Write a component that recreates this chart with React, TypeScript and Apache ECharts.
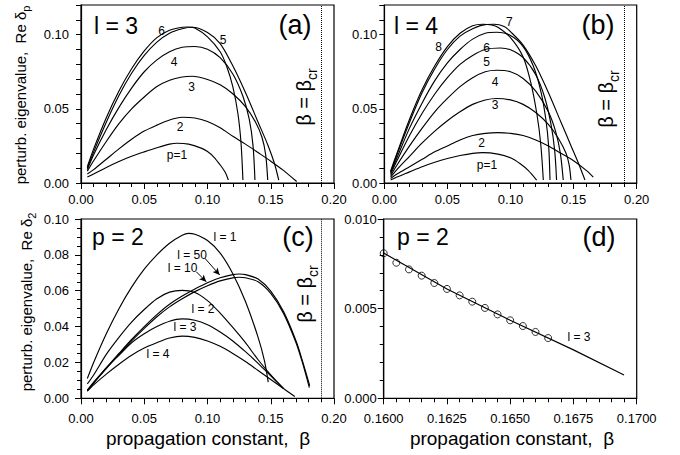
import React, { useEffect, useRef } from "react";
import * as echarts from "echarts";

const FONT = '"Liberation Sans", Arial, Helvetica, sans-serif';
const BETA_CR = 0.1875;

// Panel (a): l = 3, perturbation modes p = 1..6   [beta, Re delta_p]
const A_P1 = [[0.005,0.004],[0.01,0.006],[0.02,0.0105],[0.03,0.0145],[0.04,0.018],[0.05,0.021],[0.06,0.0238],[0.07,0.0262],[0.076,0.0268],[0.085,0.0262],[0.095,0.0235],[0.10,0.0212],[0.105,0.0175],[0.11,0.0122],[0.114,0.0072],[0.1165,0.002]];
const A_P2 = [[0.005,0.006],[0.01,0.009],[0.02,0.016],[0.03,0.023],[0.04,0.0295],[0.05,0.035],[0.06,0.039],[0.07,0.0425],[0.08,0.0443],[0.09,0.0438],[0.10,0.0415],[0.11,0.0372],[0.12,0.0315],[0.13,0.0262],[0.14,0.0205],[0.15,0.0147],[0.16,0.0085],[0.1705,0.001]];
const A_P3 = [[0.005,0.008],[0.01,0.015],[0.02,0.028],[0.03,0.040],[0.04,0.050],[0.05,0.058],[0.06,0.065],[0.07,0.0693],[0.08,0.0715],[0.088,0.072],[0.10,0.0698],[0.11,0.0662],[0.12,0.0602],[0.13,0.0515],[0.138,0.041],[0.143,0.031],[0.146,0.019],[0.1476,0.002]];
const A_P4 = [[0.005,0.009],[0.01,0.019],[0.02,0.036],[0.03,0.051],[0.04,0.064],[0.05,0.075],[0.06,0.083],[0.07,0.0885],[0.08,0.0915],[0.09,0.092],[0.10,0.0902],[0.11,0.0845],[0.12,0.0735],[0.128,0.0585],[0.133,0.043],[0.136,0.025],[0.1375,0.002]];
const A_P5 = [[0.005,0.010],[0.01,0.021],[0.02,0.041],[0.03,0.059],[0.04,0.074],[0.05,0.086],[0.06,0.095],[0.07,0.101],[0.08,0.104],[0.088,0.105],[0.10,0.1015],[0.11,0.094],[0.12,0.079],[0.13,0.061],[0.14,0.041],[0.148,0.025],[0.153,0.013],[0.1563,0.002]];
const A_P6 = [[0.005,0.011],[0.01,0.023],[0.02,0.044],[0.03,0.062],[0.04,0.077],[0.05,0.089],[0.06,0.098],[0.07,0.103],[0.08,0.105],[0.085,0.1052],[0.09,0.1045],[0.10,0.0985],[0.11,0.0885],[0.115,0.079],[0.12,0.065],[0.124,0.047],[0.1265,0.027],[0.128,0.002]];

// Panel (b): l = 4, perturbation modes p = 1..8
const B_P1 = [[0.005,0.002],[0.01,0.004],[0.02,0.0075],[0.03,0.011],[0.04,0.014],[0.05,0.0165],[0.06,0.0185],[0.07,0.020],[0.078,0.0205],[0.09,0.0195],[0.10,0.017],[0.108,0.0128],[0.114,0.0085],[0.1207,0.002]];
const B_P2 = [[0.005,0.003],[0.01,0.006],[0.02,0.011],[0.03,0.016],[0.04,0.021],[0.05,0.025],[0.06,0.029],[0.07,0.032],[0.08,0.0335],[0.09,0.034],[0.10,0.0335],[0.11,0.032],[0.12,0.029],[0.13,0.025],[0.14,0.020],[0.15,0.015],[0.16,0.0085],[0.1656,0.004]];
const B_P3 = [[0.005,0.004],[0.01,0.009],[0.02,0.018],[0.03,0.027],[0.04,0.035],[0.05,0.042],[0.06,0.048],[0.07,0.053],[0.08,0.056],[0.089,0.057],[0.10,0.056],[0.11,0.053],[0.12,0.0475],[0.13,0.0395],[0.138,0.030],[0.144,0.020],[0.1465,0.012],[0.1479,0.002]];
const B_P4 = [[0.005,0.005],[0.01,0.012],[0.02,0.025],[0.03,0.037],[0.04,0.048],[0.05,0.057],[0.06,0.065],[0.07,0.071],[0.08,0.075],[0.089,0.076],[0.10,0.075],[0.11,0.0705],[0.12,0.062],[0.13,0.048],[0.136,0.034],[0.1395,0.020],[0.1418,0.002]];
const B_P5 = [[0.005,0.006],[0.01,0.015],[0.02,0.032],[0.03,0.047],[0.04,0.060],[0.05,0.071],[0.06,0.080],[0.07,0.086],[0.08,0.090],[0.092,0.091],[0.10,0.0898],[0.11,0.0845],[0.12,0.073],[0.127,0.058],[0.132,0.040],[0.135,0.022],[0.1365,0.002]];
const B_P6 = [[0.005,0.007],[0.01,0.017],[0.02,0.037],[0.03,0.054],[0.04,0.069],[0.05,0.081],[0.06,0.090],[0.07,0.097],[0.08,0.101],[0.089,0.1016],[0.10,0.0995],[0.11,0.092],[0.118,0.079],[0.124,0.062],[0.128,0.043],[0.1303,0.024],[0.1313,0.002]];
const B_P7 = [[0.005,0.0075],[0.01,0.019],[0.02,0.041],[0.03,0.061],[0.04,0.077],[0.05,0.090],[0.06,0.099],[0.07,0.104],[0.08,0.1068],[0.087,0.107],[0.095,0.1055],[0.10,0.102],[0.11,0.093],[0.12,0.079],[0.13,0.061],[0.14,0.041],[0.148,0.025],[0.154,0.013],[0.159,0.002]];
const B_P8 = [[0.005,0.008],[0.01,0.020],[0.02,0.043],[0.03,0.063],[0.04,0.079],[0.05,0.092],[0.06,0.101],[0.07,0.106],[0.078,0.107],[0.085,0.1065],[0.09,0.105],[0.10,0.098],[0.11,0.085],[0.116,0.068],[0.121,0.046],[0.124,0.026],[0.126,0.002]];

// Panel (c): p = 2, vortex charge l = 1, 2, 3, 4, 10, 50   [beta, Re delta_2]
const C_L1 = [[0.005,0.011],[0.01,0.020],[0.02,0.036],[0.03,0.050],[0.04,0.062],[0.05,0.072],[0.06,0.080],[0.07,0.0865],[0.08,0.091],[0.085,0.092],[0.09,0.0915],[0.10,0.088],[0.11,0.081],[0.12,0.0695],[0.13,0.054],[0.14,0.034],[0.145,0.021],[0.148,0.009]];
const C_L2 = [[0.005,0.008],[0.01,0.013],[0.02,0.0245],[0.03,0.034],[0.04,0.0425],[0.05,0.0495],[0.06,0.0555],[0.07,0.0592],[0.08,0.0602],[0.09,0.059],[0.10,0.0545],[0.11,0.0475],[0.12,0.0395],[0.13,0.031],[0.14,0.0215],[0.15,0.013],[0.16,0.0055]];
const C_L3 = [[0.005,0.0045],[0.01,0.0085],[0.02,0.017],[0.03,0.024],[0.04,0.031],[0.05,0.036],[0.06,0.040],[0.07,0.043],[0.08,0.0443],[0.09,0.0435],[0.10,0.041],[0.11,0.037],[0.12,0.032],[0.13,0.026],[0.14,0.0195],[0.15,0.0125],[0.16,0.0055]];
const C_L4 = [[0.005,0.004],[0.01,0.0075],[0.02,0.0135],[0.03,0.019],[0.04,0.024],[0.05,0.028],[0.06,0.031],[0.07,0.0336],[0.08,0.0347],[0.09,0.034],[0.10,0.032],[0.11,0.029],[0.12,0.025],[0.13,0.0205],[0.14,0.0155],[0.15,0.0105],[0.16,0.0055],[0.169,0.001]];
const C_L10 = [[0.005,0.004],[0.01,0.0085],[0.02,0.0165],[0.03,0.0245],[0.04,0.032],[0.05,0.039],[0.06,0.0455],[0.07,0.051],[0.08,0.0555],[0.09,0.0595],[0.10,0.0628],[0.11,0.0655],[0.12,0.0672],[0.125,0.0675],[0.13,0.0672],[0.14,0.065],[0.15,0.0585],[0.16,0.0475],[0.17,0.031],[0.175,0.020],[0.1805,0.006]];
const C_L50 = [[0.005,0.0045],[0.01,0.009],[0.02,0.017],[0.03,0.025],[0.04,0.0328],[0.05,0.040],[0.06,0.0467],[0.07,0.0525],[0.08,0.057],[0.09,0.061],[0.10,0.0645],[0.11,0.0672],[0.12,0.069],[0.125,0.0693],[0.13,0.069],[0.14,0.0665],[0.15,0.0598],[0.16,0.0485],[0.17,0.032],[0.175,0.021],[0.1808,0.007]];
const ARROW_L50 = [[0.0978,0.0782],[0.1096,0.0688]];
const ARROW_L10 = [[0.0911,0.0706],[0.099,0.0650]];

// Panel (d): p = 2, l = 3, close to the edge of the instability band
const D_LINE = [[0.16,0.0081],[0.1625,0.0061],[0.165,0.00435],[0.1675,0.0027],[0.1695,0.0013]];
const D_CIRCLES = [[0.16,0.00809],[0.1605,0.00756],[0.161,0.00719],[0.1615,0.00684],[0.162,0.00643],[0.1625,0.0061],[0.163,0.00574],[0.1635,0.00539],[0.164,0.00504],[0.1645,0.00468],[0.165,0.00435],[0.1655,0.00403],[0.166,0.0037],[0.1665,0.00336]];

const isMult = (v: number, step: number) => Math.abs(v / step - Math.round(v / step)) < 1e-6;

function grid(left: number, top: number, width: number, height: number) {
  return { left, top, width, height, show: true, borderColor: "#000", borderWidth: 1.2, backgroundColor: "transparent" };
}

function axis(o: any) {
  return {
    type: "value",
    gridIndex: o.g,
    min: o.min,
    max: o.max,
    interval: o.interval,
    axisLine: { show: true, onZero: false, lineStyle: { color: "#000", width: 1.2 } },
    axisTick: { show: true, inside: false, length: o.tick ?? 6, lineStyle: { color: "#000", width: 1 } },
    minorTick: { show: !!o.minor, splitNumber: o.minor || 5, length: 4, lineStyle: { color: "#000", width: 1 } },
    splitLine: { show: false },
    axisLabel: {
      show: true,
      color: "#000",
      fontFamily: FONT,
      fontSize: o.fs ?? 13,
      margin: o.margin ?? 8,
      formatter: o.fmt,
    },
  };
}

function curve(data: number[][], idx: number, extra: any = {}) {
  return {
    type: "line",
    xAxisIndex: idx,
    yAxisIndex: idx,
    data,
    symbol: "none",
    smooth: 0.3,
    lineStyle: { color: "#000", width: 1.15 },
    silent: true,
    z: 3,
    ...extra,
  };
}

const crLine = {
  silent: true,
  symbol: ["none", "none"],
  label: { show: false },
  lineStyle: { color: "#000", type: "dotted", width: 1 },
  data: [{ xAxis: BETA_CR }],
};

function txt(text: string, x: number, y: number, size: number, align = "center") {
  return {
    type: "text",
    x,
    y,
    silent: true,
    style: { text, fill: "#000", font: `${size}px ${FONT}`, align, verticalAlign: "middle" },
  };
}

function subText(main: string, sub: string, x: number, y: number, size: number, subSize: number, drop: number) {
  return {
    type: "text",
    x,
    y,
    rotation: Math.PI / 2,
    silent: true,
    style: {
      text: `{m|${main}}{s|${sub}}`,
      align: "center",
      verticalAlign: "middle",
      rich: {
        m: { fontSize: size, fontFamily: FONT, fill: "#000", verticalAlign: "bottom", padding: [0, 0, drop, 0] },
        s: { fontSize: subSize, fontFamily: FONT, fill: "#000", verticalAlign: "bottom" },
      },
    },
  };
}

const fmt2 = (v: number) => v.toFixed(2);

const option: any = {
  animation: false,
  backgroundColor: "#fff",
  textStyle: { fontFamily: FONT },
  grid: [grid(81, 5, 253, 178), grid(384.3, 5, 252.4, 178), grid(81, 219, 253, 179.3), grid(383.7, 219, 253, 179.3)],
  xAxis: [
    axis({ g: 0, min: 0, max: 0.2, interval: 0.05, minor: 5, fmt: fmt2, margin: 10, tick: 6 }),
    axis({ g: 1, min: 0, max: 0.2, interval: 0.05, minor: 5, fmt: fmt2, margin: 10, tick: 6 }),
    axis({ g: 2, min: 0, max: 0.2, interval: 0.05, minor: 5, fmt: fmt2, margin: 14, tick: 6 }),
    axis({ g: 3, min: 0.16, max: 0.17, interval: 0.0025, minor: 5, fmt: (v: number) => v.toFixed(4), margin: 14, tick: 6 }),
  ],
  yAxis: [
    axis({ g: 0, min: 0, max: 0.12, interval: 0.01, tick: 5, fmt: (v: number) => (isMult(v, 0.05) ? v.toFixed(2) : ""), margin: 12 }),
    axis({ g: 1, min: 0, max: 0.12, interval: 0.01, tick: 5, fmt: (v: number) => (isMult(v, 0.05) ? v.toFixed(2) : ""), margin: 7 }),
    axis({ g: 2, min: 0, max: 0.1, interval: 0.02, minor: 4, fmt: fmt2, margin: 12 }),
    axis({ g: 3, min: 0, max: 0.01, interval: 0.005, minor: 5, fmt: (v: number) => v.toFixed(3), margin: 7 }),
  ],
  series: [
    curve(A_P1, 0, { markLine: crLine }),
    curve(A_P2, 0),
    curve(A_P3, 0),
    curve(A_P4, 0),
    curve(A_P5, 0),
    curve(A_P6, 0),
    curve(B_P1, 1, { markLine: crLine }),
    curve(B_P2, 1),
    curve(B_P3, 1),
    curve(B_P4, 1),
    curve(B_P5, 1),
    curve(B_P6, 1),
    curve(B_P7, 1),
    curve(B_P8, 1),
    curve(C_L1, 2, { markLine: crLine }),
    curve(C_L2, 2),
    curve(C_L3, 2),
    curve(C_L4, 2),
    curve(C_L10, 2),
    curve(C_L50, 2, {
      markLine: {
        silent: true,
        symbol: ["none", "arrow"],
        symbolSize: [5, 7],
        label: { show: false },
        lineStyle: { color: "#000", type: "solid", width: 1 },
        data: [
          [{ coord: ARROW_L50[0] }, { coord: ARROW_L50[1] }],
          [{ coord: ARROW_L10[0] }, { coord: ARROW_L10[1] }],
        ],
      },
    }),
    curve(D_LINE, 3, { smooth: false }),
    {
      type: "scatter",
      xAxisIndex: 3,
      yAxisIndex: 3,
      data: D_CIRCLES,
      symbol: "circle",
      symbolSize: 7,
      silent: true,
      itemStyle: { color: "transparent", borderColor: "#000", borderWidth: 1 },
      z: 4,
    },
  ],
  graphic: [
    // panel titles
    txt("l = 3", 94, 26, 23, "left"),
    txt("(a)", 295, 25, 27),
    txt("l = 4", 394, 26, 23, "left"),
    txt("(b)", 598, 25, 27),
    txt("p = 2", 92, 236.5, 23, "left"),
    txt("(c)", 298, 237, 27),
    txt("p = 2", 397, 236.5, 23, "left"),
    txt("(d)", 599, 237, 27),
    // curve labels (a)
    txt("6", 161.5, 30.5, 12),
    txt("5", 223, 40, 12),
    txt("4", 174, 61.7, 12),
    txt("3", 191.5, 86.7, 12),
    txt("2", 180, 126.7, 12),
    txt("p=1", 177, 154.5, 12),
    // curve labels (b)
    txt("7", 509.3, 21.7, 12),
    txt("8", 438.7, 47, 12),
    txt("6", 486.5, 48, 12),
    txt("5", 486.5, 62, 12),
    txt("4", 495, 81.7, 12),
    txt("3", 495, 105, 12),
    txt("2", 481.7, 143.3, 12),
    txt("p=1", 487, 165, 12),
    // curve labels (c)
    txt("l = 1", 225, 236.5, 12),
    txt("l = 50", 192, 255, 12),
    txt("l = 10", 182.5, 268.3, 12),
    txt("l = 2", 203, 309, 12),
    txt("l = 3", 185, 327, 12),
    txt("l = 4", 158, 354, 12),
    // curve label (d)
    txt("l = 3", 579, 337, 12),
    // critical line labels
    subText("β = β", "cr", 306, 97, 20, 14, 5),
    subText("β = β", "cr", 608, 99, 20, 14, 5),
    subText("β = β", "cr", 307, 294, 20, 14, 5),
    // axis names
    subText("perturb. eigenvalue,  Re δ", "p", 22, 95, 15, 11, 4),
    subText("perturb. eigenvalue,  Re δ", "2", 28, 302, 15, 11, 4),
    txt("propagation constant,  β", 208, 438, 19),
    txt("propagation constant,  β", 512, 438, 19),
  ],
};

export default function App() {
  const ref = useRef<HTMLDivElement>(null);
  useEffect(() => {
    if (!ref.current) return;
    const chart = echarts.init(ref.current, null, { renderer: "svg" });
    chart.setOption(option);
    return () => chart.dispose();
  }, []);
  return (
    <div
      ref={ref}
      style={{ position: "fixed", left: 0, top: 0, width: 680, height: 455, background: "#fff" }}
    />
  );
}
